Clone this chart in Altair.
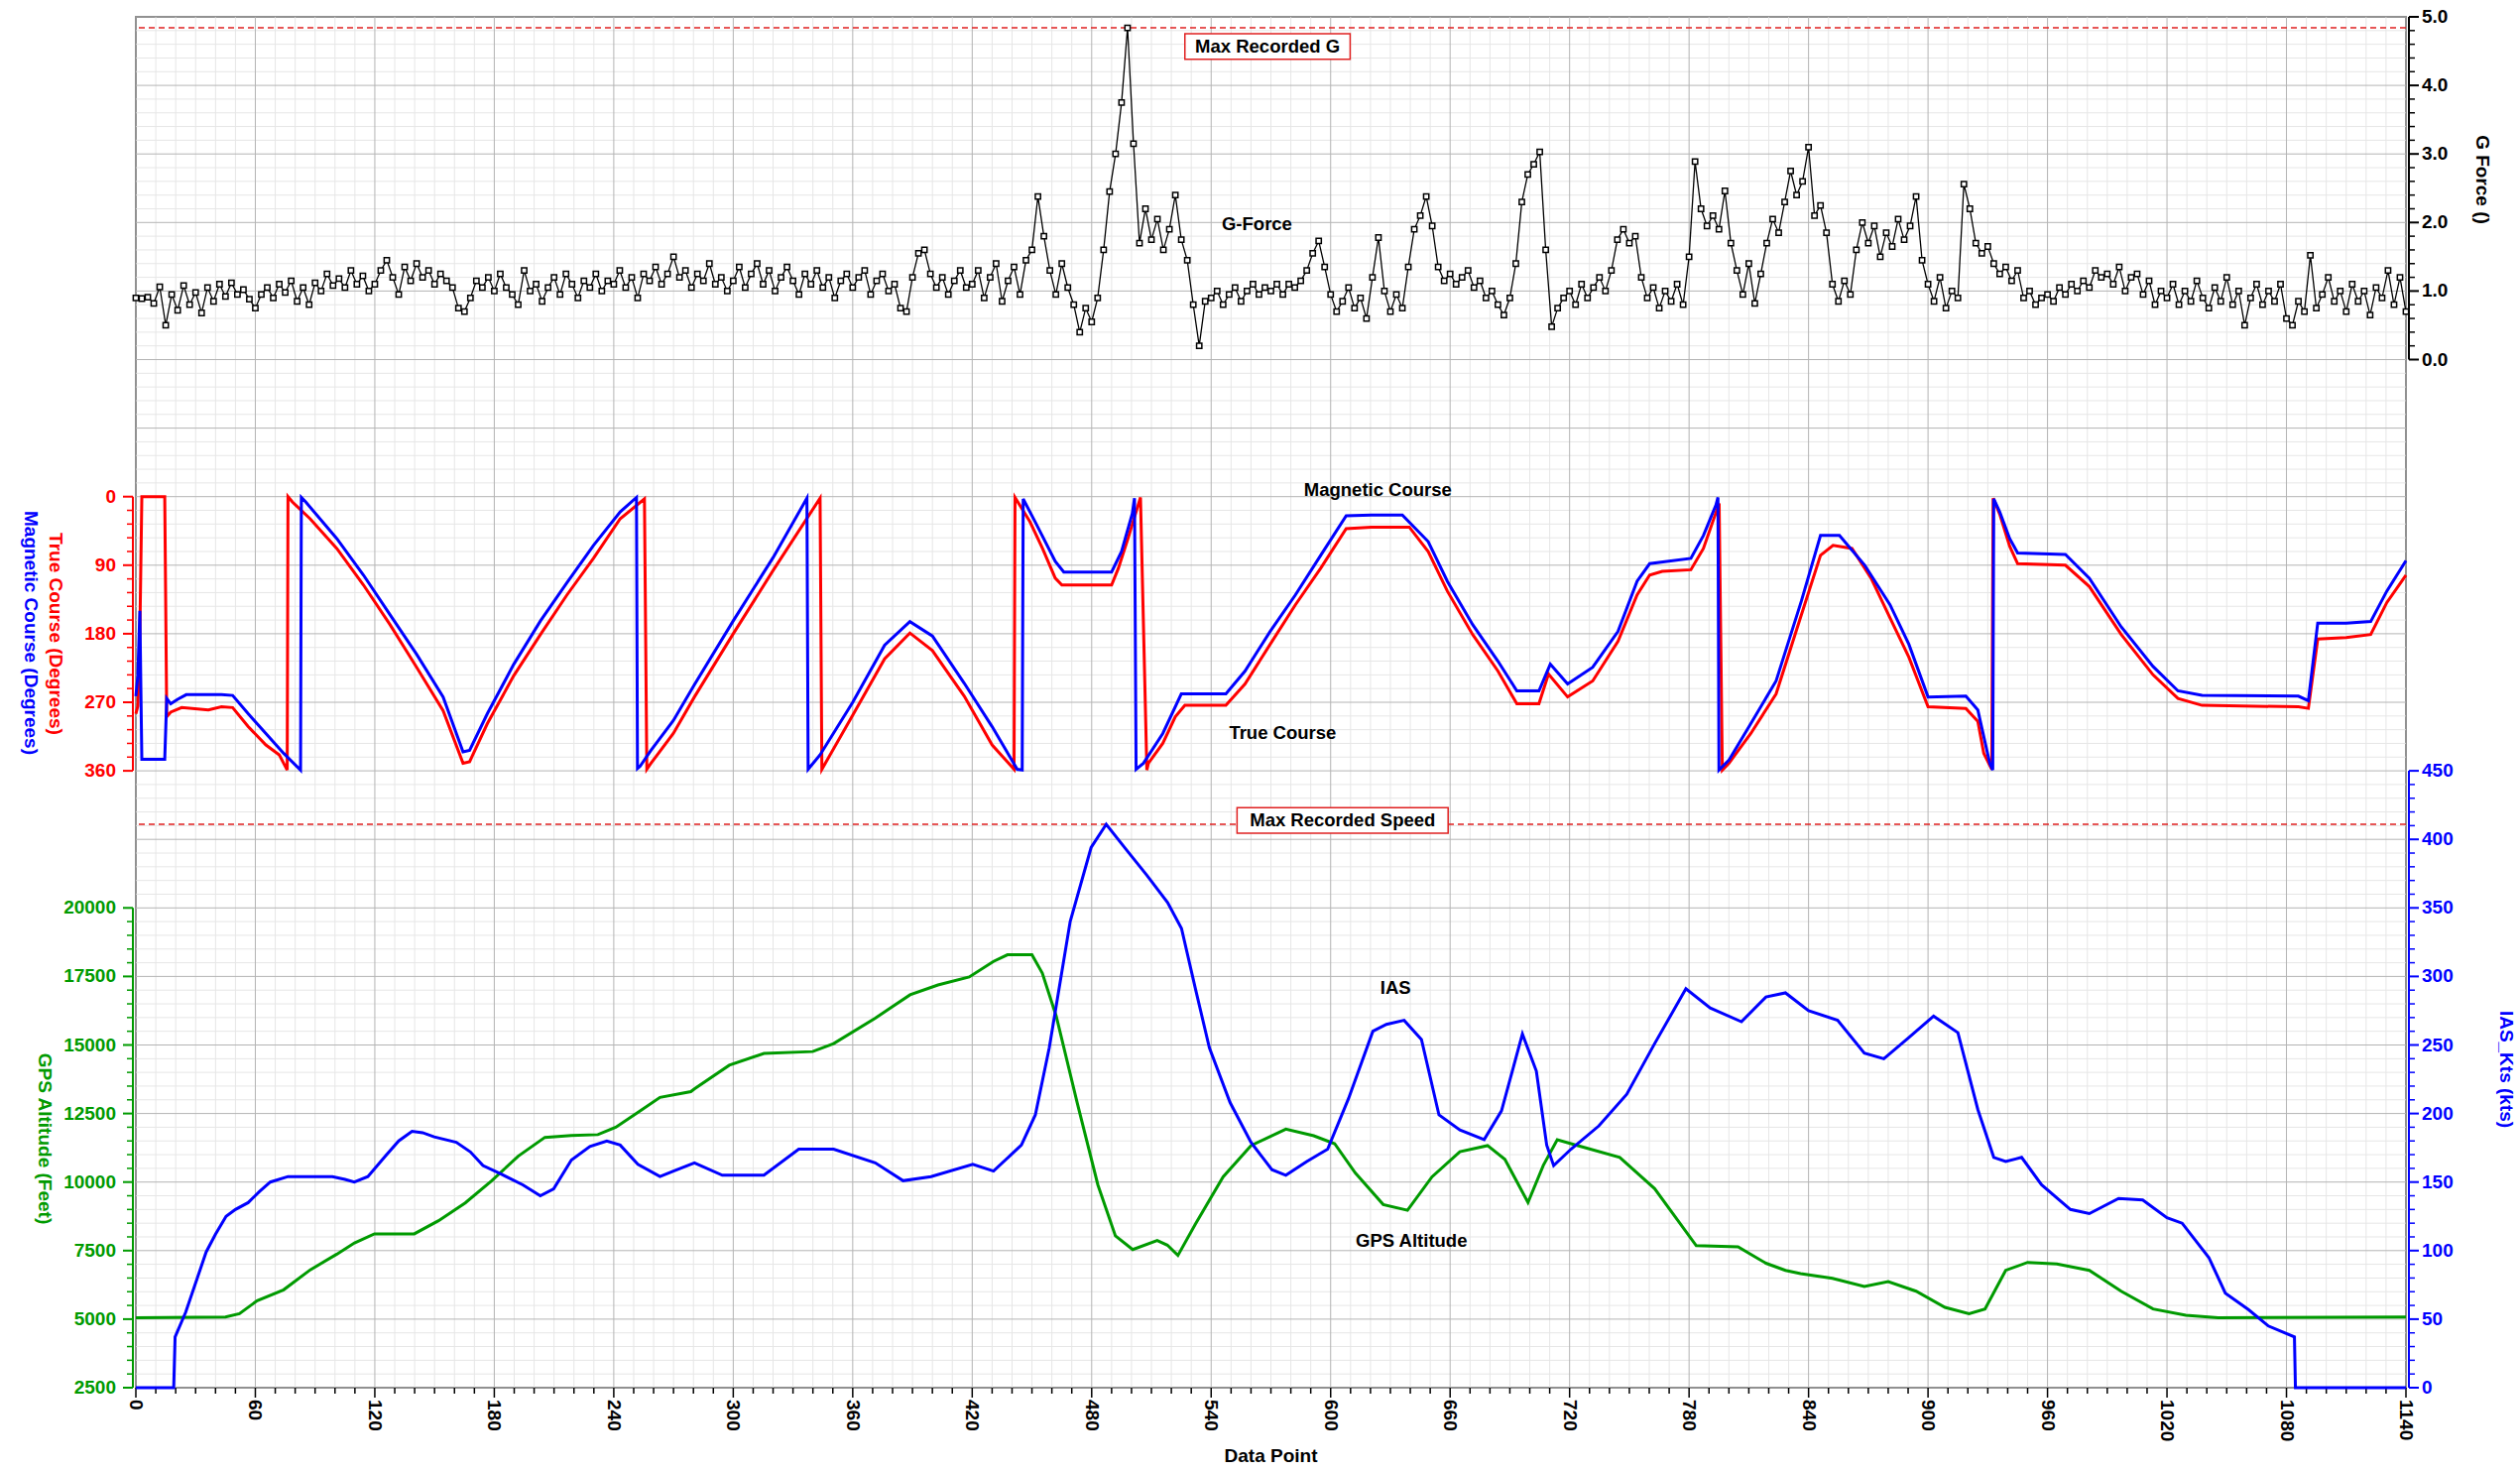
import altair as alt
import pandas as pd

# ---------------- data ----------------
X_MAX = 1140
X_MAJOR = list(range(0, 1141, 60))
G_TICKS = [0, 1, 2, 3, 4, 5]
COURSE_TICKS = [0, 90, 180, 270, 360]
ALT_TICKS = list(range(2500, 20001, 2500))
IAS_TICKS = list(range(0, 451, 50))

# G-force, sampled every 3 data points
G_FORCE = [
0.90,0.89,0.91,0.82,1.06,0.50,0.95,0.72,1.08,0.80,0.98,0.68,1.05,0.85,1.10,0.92,1.12,0.95,1.02,0.88,
0.75,0.95,1.05,0.90,1.10,0.98,1.15,0.85,1.05,0.80,1.12,1.00,1.25,1.08,1.18,1.05,1.30,1.10,1.22,1.00,
1.10,1.30,1.45,1.20,0.95,1.35,1.15,1.40,1.20,1.30,1.10,1.25,1.15,1.05,0.75,0.70,0.90,1.15,1.05,1.20,
1.00,1.25,1.05,0.95,0.80,1.30,1.00,1.10,0.85,1.05,1.20,0.95,1.25,1.10,0.90,1.15,1.05,1.25,1.00,1.15,
1.10,1.30,1.05,1.20,0.90,1.25,1.15,1.35,1.10,1.25,1.50,1.20,1.30,1.05,1.25,1.15,1.40,1.10,1.20,1.00,
1.15,1.35,1.05,1.25,1.40,1.10,1.30,1.00,1.20,1.35,1.15,0.95,1.25,1.10,1.30,1.05,1.20,0.90,1.15,1.25,
1.05,1.20,1.30,0.95,1.15,1.25,1.00,1.10,0.75,0.70,1.20,1.55,1.60,1.25,1.05,1.20,0.95,1.15,1.30,1.05,
1.10,1.30,0.90,1.20,1.40,0.85,1.15,1.35,0.95,1.45,1.60,2.38,1.80,1.30,0.95,1.40,1.05,0.80,0.40,0.75,
0.55,0.90,1.60,2.45,3.00,3.75,4.84,3.15,1.70,2.20,1.75,2.05,1.60,1.90,2.40,1.75,1.45,0.80,0.20,0.85,
0.90,1.00,0.80,0.95,1.05,0.85,1.00,1.10,0.95,1.05,1.00,1.10,0.95,1.10,1.05,1.15,1.30,1.55,1.73,1.35,
0.95,0.70,0.85,1.05,0.75,0.90,0.60,1.20,1.78,1.00,0.70,0.95,0.75,1.35,1.90,2.10,2.38,1.95,1.35,1.15,
1.25,1.10,1.20,1.30,1.05,1.15,0.90,1.00,0.80,0.65,0.90,1.40,2.30,2.70,2.85,3.03,1.60,0.48,0.75,0.90,
1.00,0.80,1.10,0.90,1.05,1.20,1.00,1.30,1.75,1.90,1.70,1.80,1.20,0.90,1.05,0.75,1.00,0.85,1.10,0.80,
1.50,2.89,2.20,1.95,2.10,1.90,2.46,1.70,1.30,0.95,1.40,0.82,1.25,1.70,2.05,1.85,2.30,2.75,2.40,2.60,
3.10,2.10,2.25,1.85,1.10,0.85,1.15,0.95,1.60,2.00,1.70,1.95,1.50,1.85,1.65,2.05,1.75,1.95,2.38,1.45,
1.10,0.85,1.20,0.75,1.00,0.90,2.56,2.20,1.70,1.55,1.65,1.40,1.25,1.35,1.15,1.30,0.90,1.00,0.80,0.90,
0.95,0.85,1.05,0.95,1.10,1.00,1.15,1.05,1.30,1.20,1.25,1.10,1.35,1.00,1.20,1.25,0.95,1.15,0.80,1.00,
0.90,1.10,0.80,1.00,0.85,1.15,0.90,0.75,1.05,0.85,1.20,0.80,1.00,0.50,0.90,1.10,0.80,1.00,0.85,1.10,
0.60,0.50,0.85,0.70,1.52,0.75,0.95,1.20,0.85,1.00,0.70,1.10,0.85,1.00,0.65,1.05,0.90,1.30,0.80,1.20,
0.70]
G_X = [3 * i for i in range(len(G_FORCE))]

TRUE_X = [0,1,2,3,14.5,15.5,17.5,23,36.4,43,48.6,56.4,65.3,72,76,76.4,78.6,87.5,100.9,114.3,127.6,141,
          154.3,164.3,167.6,176.5,189.8,203.2,216.5,229.8,243.2,255.4,256.6,258.7,269.9,280.5,300,320,
          343.6,344.5,360,376,388.7,400,416,430,441,441.5,449,455.3,461.7,465,490,493.4,498.2,504.5,
          507.7,508.5,515.7,522,526.8,547.4,557,569.6,582.3,595,607.8,620.4,639.5,649,658.6,671.3,684,
          693.5,704.6,709.4,719,731.6,744.3,753.9,760.2,766.5,780.9,787.2,795.1,796.7,800,811,823.7,
          836.4,846,852.3,861.8,871.4,880.9,890.4,900,919,925,928,932,932.7,936,941,945,969,981,997,
          1013,1025.5,1037.6,1086,1091,1095.7,1110,1122.3,1130.4,1140]
TRUE_C = [285,275,180,0,0,289,283,277,280,276,277,302,326,339,359,0,7,29,68,116,168,224,
          281,350,348,298,235,181,129,81,29,3,358,350,311,263,180,97,
          2,358,287,213,179,202,262,326,358,1,33,68,107,116,116,94,55,1,
          359,350,324,289,274,274,246,194,142,94,42,40,40,72,124,181,229,
          272,272,233,263,242,190,129,103,98,96,68,9,359,350,311,259,
          155,77,64,68,107,159,211,276,278,295,337,358,2,23,65,88,90,118,181,
          234,265,274,276,278,187,185,181,139,103]

MAG_X = [0,1,2,2.5,3,14.5,15.5,17.5,21,25.3,43,48.6,56.4,65.3,74.2,82.7,83.1,85.3,100.9,114.3,127.6,
         141,154.3,164.3,167.6,176.5,189.8,203.2,216.5,229.8,243.2,251.4,251.9,253.2,258.7,269.9,280.5,
         300,320,337,337.6,343.6,360,376,388.7,400,416,430,442.6,445.1,445.6,452,461.7,466,490,495,
         500.4,501.5,502.3,506,515.7,525,547.4,557,569.6,582.3,595,607.8,620.4,636,649,658.6,671.3,
         684,693.5,704.6,710.3,719,731.6,744.3,753.9,760.2,780.9,787.2,793.5,794.5,795,800,811,823.7,
         836.4,846,855.5,868.2,880.9,890.4,900,919,925,928,931,932.5,933,936,941,945,969,981,997,1013,
         1025.5,1037.6,1086,1091,1095.7,1110,1122.3,1130.4,1140]
MAG_C = [262,235,150,250,345,345,265,272,266,260,260,261,285,311,337,359,1,7,55,103,155,
         207,263,335,333,285,220,163,113,64,20,1,357,354,333,294,247,
         163,80,2,358,339,270,195,164,183,245,302,358,359,3,35,85,99,99,72,
         22,2,358,350,311,259,259,229,177,129,77,25,24,24,59,111,168,
         216,255,255,220,246,224,177,111,88,81,51,11,1,359,346,298,242,
         137,51,51,90,142,194,263,262,280,315,350,359,3,20,55,74,76,107,171,223,
         255,261,262,268,166,166,164,124,84]

ALT_X = [0,45,52,60.9,74.2,87.6,100.9,109.8,119.8,139.8,152,165.4,178.7,192,205.4,218.7,232,241,254.3,
         263.2,278.7,280.5,298,315.4,339.9,350.4,371.3,388.8,402.8,418.5,430.7,437.7,450,455.2,462.2,
         472.7,483.1,491.9,500.6,512.9,518,523.3,532.1,546,560,577.5,591.5,602,612.4,626.4,638.6,650.9,
         664.9,678.8,687.5,699.1,706.8,713.8,724.2,745.2,762.7,783.6,804.6,818.6,828.4,836,852,868,880,
         894,908.5,920.6,928.6,939,950,964.7,981,997,1013,1029.5,1045.7,1140]
ALT_FT = [5050,5080,5200,5670,6070,6800,7370,7780,8110,8110,8590,9240,10050,10945,11630,11700,11730,12000,12650,
          13090,13300,13400,14260,14690,14760,15050,15980,16830,17190,17480,18050,18290,18290,17620,16050,
          12900,9900,8040,7540,7870,7700,7325,8470,10190,11330,11930,11690,11400,10330,9180,8970,10190,
          11110,11330,10830,9255,10610,11540,11330,10900,9760,7680,7640,7040,6780,6660,6490,6190,6370,
          6020,5430,5200,5370,6780,7070,7010,6780,6020,5370,5140,5050,5080]

IAS_X = [0,19,19.7,25,29.7,35.3,40,45.3,50,56.4,62,67.5,76.4,88,98.7,105,109.7,116.5,125.3,132,138.7,144,
         149.8,160.9,168,174.3,183.2,194.3,203.1,209.8,218.7,228,236.5,243.2,252.1,263.2,270,280.5,294.5,
         315.4,332.9,350.4,371.3,385.3,399.3,420.3,430.7,444.7,451.7,458.7,469.2,479.7,487.3,497.1,507.6,
         518.1,525.1,532.1,539.1,549.5,560,570.5,577.5,588,598.5,609,621.2,628,636.9,645.6,654.4,664.9,
         677.1,685.8,696.3,703.3,708.5,712,720.7,734.7,748.7,762.7,778.4,790.6,806.3,818.6,828.4,840,
         854.6,868,877.8,890,902.8,915,925,933,939,947,957,971.5,981,995.7,1007.8,1020,1027.6,1041,
         1049.3,1060.9,1070.9,1084,1084.5,1140]
IAS_KTS = [0,0,37,55,75,99,112,125,130,135,143,150,154,154,154,152,150,154,169,180,187,186,
           183,179,172,162,156,148,140,145,166,176,180,177,163,154,158,164,155,
           155,174,174,164,151,154,163,158,177,199,248,340,394,411,393,374,
           354,335,291,248,208,179,159,155,165,174,211,260,265,268,254,199,188,
           181,202,258,231,177,162,174,191,214,251,291,277,267,285,288,275,
           268,244,240,255,271,259,203,168,165,168,148,130,127,138,137,124,120,95,
           69,57,45,37,0,0]

# ---------------- styling ----------------
W, H = 2289, 1382
FONT = "Liberation Sans"
RED, BLUE, GREEN, BLACK = "#ff0000", "#0000ff", "#009a00", "#000000"
DASH_RED = "#e02020"
FS = 19

xscale = alt.Scale(domain=[0, X_MAX], nice=False, zero=False)
xenc = alt.X("d:Q", scale=xscale, axis=None)


def ticks(vals, scale, color, side, length, width=1.5):
    df = pd.DataFrame({"v": vals})
    if side == "left":
        xv, x2v = -3, -3 - length
    else:
        xv, x2v = W + 3, W + 3 + length
    return alt.Chart(df).mark_rule(color=color, strokeWidth=width).encode(
        x=alt.value(xv), x2=alt.value(x2v), y=alt.Y("v:Q", scale=scale, axis=None))


def tick_labels(vals, texts, scale, color, side):
    df = pd.DataFrame({"v": vals, "t": texts})
    if side == "left":
        xv, align = -20, "right"
    else:
        xv, align = W + 16, "left"
    return alt.Chart(df).mark_text(font=FONT, fontSize=FS, fontWeight="bold", color=color,
                                   align=align, baseline="middle").encode(
        x=alt.value(xv), y=alt.Y("v:Q", scale=scale, axis=None), text="t:N")


def axis_line(lo, hi, scale, color, side):
    df = pd.DataFrame({"a": [lo], "b": [hi]})
    xv = -3 if side == "left" else W + 3
    return alt.Chart(df).mark_rule(color=color, strokeWidth=2).encode(
        x=alt.value(xv), y=alt.Y("a:Q", scale=scale, axis=None), y2="b:Q")


def title_text(text, color, xpx, ypx, angle=90):
    return alt.Chart(pd.DataFrame({"t": [text]})).mark_text(
        font=FONT, fontSize=FS, fontWeight="bold", color=color, angle=angle, align="center",
        baseline="middle").encode(x=alt.value(xpx), y=alt.value(ypx), text="t:N")


def label(df, scale, yfield="y"):
    return alt.Chart(df).mark_text(font=FONT, fontSize=18.5, fontWeight="bold", color=BLACK,
                                   align="center", baseline="middle").encode(
        x=xenc, y=alt.Y(f"{yfield}:Q", scale=scale, axis=None), text="t:N")


# ---------------- grid & x axis ----------------
uscale = alt.Scale(domain=[0, 20], nice=False, zero=False)
X_MINOR = [v for v in range(0, 1141, 10) if v % 60]
gx_minor = alt.Chart(pd.DataFrame({"d": X_MINOR})).mark_rule(color="#e6e6e6", strokeWidth=1).encode(x=xenc)
gy_minor = alt.Chart(pd.DataFrame({"u": [i / 5 for i in range(0, 101) if i % 5]})).mark_rule(
    color="#e6e6e6", strokeWidth=1).encode(y=alt.Y("u:Q", scale=uscale, axis=None))
gx_major = alt.Chart(pd.DataFrame({"d": X_MAJOR})).mark_rule(color="#b4b4b4", strokeWidth=1).encode(x=xenc)
gy_major = alt.Chart(pd.DataFrame({"u": list(range(0, 21))})).mark_rule(
    color="#b4b4b4", strokeWidth=1).encode(y=alt.Y("u:Q", scale=uscale, axis=None))
x_minor_t = alt.Chart(pd.DataFrame({"d": X_MINOR})).mark_rule(color=BLACK, strokeWidth=1.5).encode(
    x=xenc, y=alt.value(H), y2=alt.value(H + 6))
x_major_t = alt.Chart(pd.DataFrame({"d": X_MAJOR})).mark_rule(color=BLACK, strokeWidth=1.5).encode(
    x=xenc, y=alt.value(H), y2=alt.value(H + 10))
x_labels = alt.Chart(pd.DataFrame({"d": X_MAJOR, "t": [str(v) for v in X_MAJOR]})).mark_text(
    font=FONT, fontSize=FS, fontWeight="bold", color=BLACK, angle=90, align="left",
    baseline="middle").encode(x=xenc, y=alt.value(H + 12), text="t:N")
x_title = title_text("Data Point", BLACK, W / 2, H + 69, angle=0)
grid = alt.layer(gx_minor, gy_minor, gx_major, gy_major, x_minor_t, x_major_t, x_labels, x_title)

# ---------------- G force ----------------
gscale = alt.Scale(domain=[-15, 5], nice=False, zero=False)
g_df = pd.DataFrame({"d": G_X, "g": G_FORCE})
MAX_G = max(G_FORCE)
g_line = alt.Chart(g_df).mark_line(color=BLACK, strokeWidth=1.3).encode(
    x=xenc, y=alt.Y("g:Q", scale=gscale, axis=None))
g_pts = alt.Chart(g_df).mark_point(shape="square", filled=True, fill="white", stroke=BLACK,
                                   strokeWidth=1.5, size=28, opacity=1).encode(
    x=xenc, y=alt.Y("g:Q", scale=gscale, axis=None))
g_max = alt.Chart(pd.DataFrame({"g": [MAX_G]})).mark_rule(color=DASH_RED, strokeDash=[6, 4],
                                                          strokeWidth=1.5).encode(
    y=alt.Y("g:Q", scale=gscale, axis=None))
g_box = alt.Chart(pd.DataFrame({"x1": [526.8], "x2": [609.8], "y1": [4.754], "y2": [4.383]})).mark_rect(
    fill="white", stroke=DASH_RED, strokeWidth=1.5).encode(
    x=alt.X("x1:Q", scale=xscale, axis=None), x2="x2:Q",
    y=alt.Y("y1:Q", scale=gscale, axis=None), y2="y2:Q")
g_text = label(pd.DataFrame({"d": [568.3, 563], "y": [4.568, 1.97], "t": ["Max Recorded G", "G-Force"]}), gscale)
g_layer = alt.layer(
    g_max, g_line, g_pts, g_box, g_text,
    axis_line(0, 5, gscale, BLACK, "right"),
    ticks([i / 5 for i in range(0, 26) if i % 5], gscale, BLACK, "right", 6),
    ticks(G_TICKS, gscale, BLACK, "right", 10, 2),
    tick_labels(G_TICKS, [f"{v:.1f}" for v in G_TICKS], gscale, BLACK, "right"),
    title_text("G Force ()", BLACK, W + 77, 164),
)

# ---------------- courses ----------------
cscale = alt.Scale(domain=[-630, 1170], reverse=True, nice=False, zero=False)
true_df = pd.DataFrame({"d": TRUE_X, "c": TRUE_C})
mag_df = pd.DataFrame({"d": MAG_X, "c": MAG_C})
c_true = alt.Chart(true_df).mark_line(color=RED, strokeWidth=3).encode(
    x=xenc, y=alt.Y("c:Q", scale=cscale, axis=None))
c_mag = alt.Chart(mag_df).mark_line(color=BLUE, strokeWidth=3).encode(
    x=xenc, y=alt.Y("c:Q", scale=cscale, axis=None))
c_text = label(pd.DataFrame({"d": [623.7, 575.9], "y": [-9.2, 310], "t": ["Magnetic Course", "True Course"]}), cscale)
c_layer = alt.layer(
    c_true, c_mag, c_text,
    axis_line(0, 360, cscale, RED, "left"),
    ticks([v for v in range(0, 361, 18) if v % 90], cscale, RED, "left", 6),
    ticks(COURSE_TICKS, cscale, RED, "left", 10, 2),
    tick_labels(COURSE_TICKS, [str(v) for v in COURSE_TICKS], cscale, RED, "left"),
    title_text("True Course (Degrees)", RED, -81, 622),
    title_text("Magnetic Course (Degrees)", BLUE, -106, 621),
)

# ---------------- GPS altitude ----------------
ascale = alt.Scale(domain=[2500, 52500], nice=False, zero=False)
alt_df = pd.DataFrame({"d": ALT_X, "a": ALT_FT})
a_line = alt.Chart(alt_df).mark_line(color=GREEN, strokeWidth=3).encode(
    x=xenc, y=alt.Y("a:Q", scale=ascale, axis=None))
a_text = label(pd.DataFrame({"d": [640.6], "y": [7853], "t": ["GPS Altitude"]}), ascale)
a_layer = alt.layer(
    a_line, a_text,
    axis_line(2500, 20000, ascale, GREEN, "left"),
    ticks([v for v in range(2500, 20001, 500) if v % 2500], ascale, GREEN, "left", 6),
    ticks(ALT_TICKS, ascale, GREEN, "left", 10, 2),
    tick_labels(ALT_TICKS, [str(v) for v in ALT_TICKS], ascale, GREEN, "left"),
    title_text("GPS Altitude (Feet)", GREEN, -92, 1131),
)

# ---------------- IAS ----------------
iscale = alt.Scale(domain=[0, 1000], nice=False, zero=False)
ias_df = pd.DataFrame({"d": IAS_X, "s": IAS_KTS})
MAX_IAS = max(IAS_KTS)
i_line = alt.Chart(ias_df).mark_line(color=BLUE, strokeWidth=3).encode(
    x=xenc, y=alt.Y("s:Q", scale=iscale, axis=None))
i_max = alt.Chart(pd.DataFrame({"s": [MAX_IAS]})).mark_rule(color=DASH_RED, strokeDash=[6, 4],
                                                            strokeWidth=1.5).encode(
    y=alt.Y("s:Q", scale=iscale, axis=None))
i_box = alt.Chart(pd.DataFrame({"x1": [553], "x2": [659], "y1": [423.1], "y2": [404.5]})).mark_rect(
    fill="white", stroke=DASH_RED, strokeWidth=1.5).encode(
    x=alt.X("x1:Q", scale=xscale, axis=None), x2="x2:Q",
    y=alt.Y("y1:Q", scale=iscale, axis=None), y2="y2:Q")
i_text = label(pd.DataFrame({"d": [606, 632.6], "y": [413.8, 291.5], "t": ["Max Recorded Speed", "IAS"]}), iscale)
i_layer = alt.layer(
    i_max, i_line, i_box, i_text,
    axis_line(0, 450, iscale, BLUE, "right"),
    ticks([v for v in range(0, 451, 10) if v % 50], iscale, BLUE, "right", 6),
    ticks(IAS_TICKS, iscale, BLUE, "right", 10, 2),
    tick_labels(IAS_TICKS, [str(v) for v in IAS_TICKS], iscale, BLUE, "right"),
    title_text("IAS_Kts (kts)", BLUE, W + 101, 1061),
)

chart = alt.layer(grid, g_layer, c_layer, a_layer, i_layer).resolve_scale(y="independent").properties(
    width=W, height=H,
    autosize=alt.AutoSizeParams(type="none"),
    padding={"left": 137, "top": 17, "right": 115, "bottom": 85},
    background="white",
).configure_view(stroke="#404040", strokeWidth=1.5)

chart.save("out.html", embed_options={"renderer": "svg", "actions": False})
